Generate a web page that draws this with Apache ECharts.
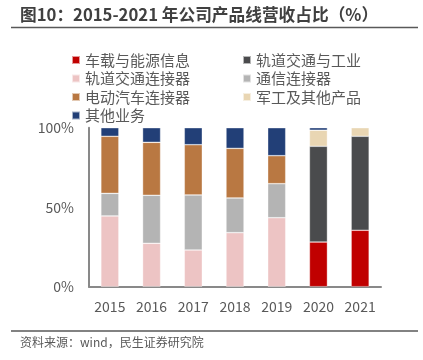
<!DOCTYPE html>
<html><head><meta charset="utf-8">
<script src="https://cdn.jsdelivr.net/npm/echarts@6/dist/echarts.min.js"></script>
<style>html,body{margin:0;padding:0;background:#fff}#c{width:423px;height:360px}</style>
</head><body><div id="c"></div>
<script>
const categories = ['2015','2016','2017','2018','2019','2020','2021'];
const seriesNames = ['车载与能源信息','轨道交通与工业','轨道交通连接器','通信连接器','电动汽车连接器','军工及其他产品','其他业务'];
const vehicleEnergy = [null,null,null,null,null,28.1,35.5];
const railIndustry = [null,null,null,null,null,60.2,59.1];
const railConnector = [44.5,27.3,23.1,34.0,43.4,null,null];
const commConnector = [14.2,30.2,34.6,21.8,21.4,null,null];
const evConnector = [35.9,33.3,31.6,31.2,17.6,null,null];
const militaryOther = [null,null,null,null,null,10.1,5.4];
const otherBusiness = [5.4,9.2,10.7,13.0,17.6,1.6,null];
const yTicks = [0,50,100];

const colors = ['#C00000','#4A4B4D','#EDC4C4','#B4B4B4','#B97842','#E9D6B3','#223F77'];
const allData = [vehicleEnergy,railIndustry,railConnector,commConnector,evConnector,militaryOther,otherBusiness];
const font = '"Noto Sans CJK SC","Noto Sans",sans-serif';

const chart = echarts.init(document.getElementById('c'), null, {renderer:'canvas'});
const legendCommon = {
  orient:'vertical', itemWidth:8, itemHeight:8, itemGap:3.5, icon:'rect',
  textStyle:{fontFamily:font, fontSize:15, lineHeight:15, color:'#595959'},
  selectedMode:false
};
chart.setOption({
  animation:false,
  color: colors,
  legend:[
    Object.assign({left:66, top:47.5, data:[seriesNames[0],seriesNames[2],seriesNames[4],seriesNames[6]]}, legendCommon),
    Object.assign({left:237, top:47.5, data:[seriesNames[1],seriesNames[3],seriesNames[5]]}, legendCommon)
  ],
  grid:{left:89, right:42, top:127.7, bottom:73.3},
  xAxis:{type:'category', data:categories,
    axisLine:{lineStyle:{color:'#898989', width:2}},
    axisTick:{show:false},
    axisLabel:{fontFamily:font, fontSize:14, color:'#595959', margin:13}},
  yAxis:{type:'value', min:yTicks[0], max:yTicks[yTicks.length-1], interval:yTicks[1]-yTicks[0],
    axisLine:{show:true, lineStyle:{color:'#898989', width:2}},
    axisTick:{show:false}, splitLine:{show:false},
    axisLabel:{fontFamily:font, fontSize:14, color:'#595959', margin:15, formatter:'{value}%'}},
  series: seriesNames.map((n,i)=>({
    name:n, type:'bar', stack:'total', data:allData[i], barWidth:18,
    itemStyle:{color:colors[i], borderColor:'rgba(255,255,255,0.6)', borderWidth:0.6}
  })),
  graphic:[
    {type:'text', left:20, top:6, style:{text:'图10：2015-2021 年公司产品线营收占比（%）', fontFamily:font, fontSize:16.7, fontWeight:'bold', fill:'#404040'}},
    {type:'line', shape:{x1:11,y1:27.5,x2:418,y2:27.5}, style:{stroke:'#595959', lineWidth:1.5}},
    {type:'line', shape:{x1:11,y1:331,x2:418,y2:331}, style:{stroke:'#595959', lineWidth:1.5}},
    {type:'text', left:20, top:336, style:{text:'资料来源：wind，民生证券研究院', fontFamily:font, fontSize:12, fill:'#595959'}}
  ]
});
</script></body></html>
